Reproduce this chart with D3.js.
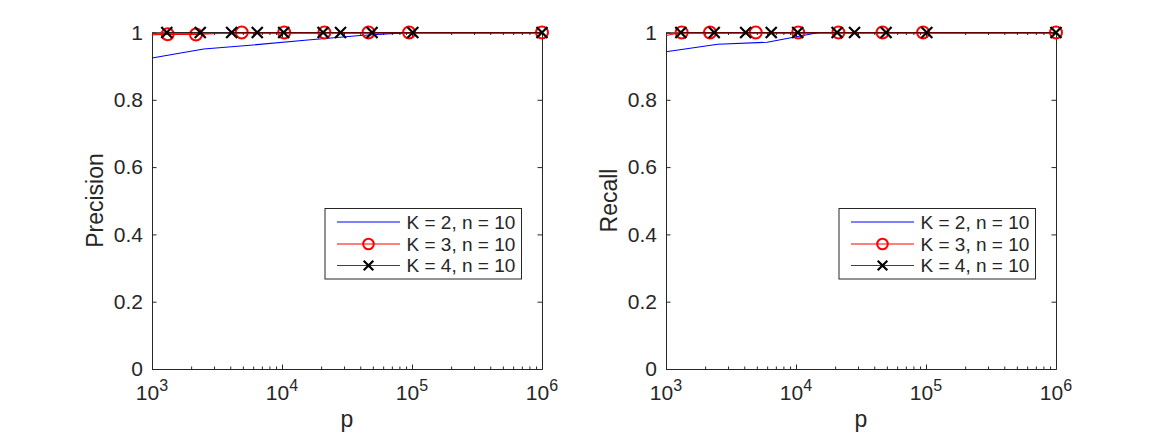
<!DOCTYPE html>
<html>
<head>
<meta charset="utf-8">
<script src="https://cdn.jsdelivr.net/npm/d3@7"></script>
<style>
  body { margin: 0; background: #fff; }
  text { font-family: "Liberation Sans", Arial, Helvetica, sans-serif; fill: #262626; }
</style>
</head>
<body>
<div id="chart"></div>
<script>
// Data
var xTicks = [1e3, 1e4, 1e5, 1e6];
var xTickExp = ["3", "4", "5", "6"];
var yTicks = [0, 0.2, 0.4, 0.6, 0.8, 1];
var legendLabels = ["K = 2, n = 10", "K = 3, n = 10", "K = 4, n = 10"];

// K = 2 (blue, no markers)
var pK2Prec = [1000, 2500, 6000, 15000, 40000, 100000, 1000000];
var precK2 = [0.924, 0.951, 0.963, 0.977, 0.991, 1.0, 1.0];
var pK2Rec = [1000, 2500, 6000, 15000, 1000000];
var recK2 = [0.943, 0.965, 0.971, 1.0, 1.0];

// K = 3 (red circles), first point has no marker
var pK3 = [1000, 1320, 2180, 4900, 10400, 21200, 46300, 95000, 1000000];
var precK3 = [0.993, 0.995, 0.994, 1, 1, 1, 1, 1, 1];
var recK3 = [0.991, 1, 1, 1, 1, 1, 1, 1, 1];

// K = 4 (black crosses)
var pK4 = [1300, 2350, 4100, 6450, 10300, 20700, 28200, 49300, 101500, 1000000];
var precK4 = [1, 1, 1, 1, 1, 1, 1, 1, 1, 1];
var recK4 = [1, 1, 1, 1, 1, 1, 1, 1, 1, 1];

var svgWidth = 1167;
var svgHeight = 434;
var axisColor = "#262626";

var svg = d3.select("#chart").append("svg")
  .attr("width", svgWidth)
  .attr("height", svgHeight);

svg.append("rect").attr("width", svgWidth).attr("height", svgHeight).attr("fill", "#fff");

// minor ticks of the log axis
var minorTicks = [];
[1e3, 1e4, 1e5].forEach(function(d) {
  for (var k = 2; k <= 9; k++) minorTicks.push(d * k);
});

function drawPanel(left, yLabel, series, legendX) {
  var x = d3.scaleLog().domain([1e3, 1e6]).range([left, left + 390]);
  var y = d3.scaleLinear().domain([0, 1]).range([369, 32.5]);
  var g = svg.append("g");

  // inward ticks on all four sides
  g.append("g").attr("transform", "translate(0,369)")
    .call(d3.axisBottom(x).tickValues(minorTicks).tickSize(-2.5).tickSizeOuter(0).tickFormat(""));
  g.append("g").attr("transform", "translate(0,369)")
    .call(d3.axisBottom(x).tickValues(xTicks).tickSize(-4.5).tickSizeOuter(0).tickFormat(""));
  g.append("g").attr("transform", "translate(0,32.5)")
    .call(d3.axisTop(x).tickValues(minorTicks).tickSize(-2.5).tickSizeOuter(0).tickFormat(""));
  g.append("g").attr("transform", "translate(0,32.5)")
    .call(d3.axisTop(x).tickValues(xTicks).tickSize(-4.5).tickSizeOuter(0).tickFormat(""));
  g.append("g").attr("transform", "translate(" + left + ",0)")
    .call(d3.axisLeft(y).tickValues(yTicks).tickSize(-4.5).tickSizeOuter(0).tickPadding(9)
      .tickFormat(function(d) { return d; }));
  g.append("g").attr("transform", "translate(" + (left + 390) + ",0)")
    .call(d3.axisRight(y).tickValues(yTicks).tickSize(-4.5).tickSizeOuter(0).tickFormat(""));

  g.selectAll(".domain, .tick line").attr("stroke", axisColor);
  g.selectAll(".tick text").style("font-size", "21px").attr("fill", axisColor);

  // x tick labels 10^n
  var xl = g.selectAll(".xlab").data(xTicks).enter().append("text")
    .attr("x", d => x(d))
    .attr("y", 400)
    .attr("text-anchor", "middle")
    .style("font-size", "21px");
  xl.append("tspan").text("10");
  xl.append("tspan").attr("dy", -9).style("font-size", "16px").text((d, i) => xTickExp[i]);

  // axis labels
  g.append("text")
    .attr("x", left + 195).attr("y", 427)
    .attr("text-anchor", "middle")
    .style("font-size", "23px")
    .text("p");
  g.append("text")
    .attr("transform", "translate(" + (left - 49.5) + ",200.5) rotate(-90)")
    .attr("text-anchor", "middle")
    .style("font-size", "23px")
    .text(yLabel);

  var line = d3.line().x(d => x(d[0])).y(d => y(d[1]));

  // K = 2
  g.append("path").datum(d3.zip(series.p2, series.v2))
    .attr("d", line).attr("fill", "none").attr("stroke", "#0000ff").attr("stroke-width", 1.1);

  // K = 3
  var k3 = d3.zip(pK3, series.v3);
  g.append("path").datum(k3)
    .attr("d", line).attr("fill", "none").attr("stroke", "#ff0000").attr("stroke-width", 1.1);
  g.selectAll(".circ").data(k3.slice(1)).enter().append("circle")
    .attr("cx", d => x(d[0])).attr("cy", d => y(d[1])).attr("r", 6)
    .attr("fill", "none").attr("stroke", "#ff0000").attr("stroke-width", 2);

  // K = 4
  var k4 = d3.zip(pK4, series.v4);
  g.append("path").datum(k4)
    .attr("d", line).attr("fill", "none").attr("stroke", "#000").attr("stroke-opacity", 0.6).attr("stroke-width", 1.1);
  g.selectAll(".cross").data(k4).enter().append("path")
    .attr("transform", d => "translate(" + x(d[0]) + "," + y(d[1]) + ")")
    .attr("d", "M-5.5,-5.5L5.5,5.5M-5.5,5.5L5.5,-5.5")
    .attr("stroke", "#000").attr("stroke-width", 2.2);

  // legend
  var lg = g.append("g").attr("transform", "translate(" + legendX + ",208.5)");
  lg.append("rect").attr("width", 196.5).attr("height", 70.5)
    .attr("fill", "#fff").attr("stroke", axisColor).attr("stroke-width", 1);
  var rowY = [13.5, 35.5, 57];
  var colors = ["#0000ff", "#ff0000", "#404040"];
  legendLabels.forEach(function(lab, i) {
    lg.append("line").attr("x1", 12).attr("x2", 75).attr("y1", rowY[i]).attr("y2", rowY[i])
      .attr("stroke", colors[i]).attr("stroke-width", 1.1);
    if (i === 1) {
      lg.append("circle").attr("cx", 43.5).attr("cy", rowY[i]).attr("r", 5.3)
        .attr("fill", "none").attr("stroke", "#ff0000").attr("stroke-width", 2);
    }
    if (i === 2) {
      lg.append("path").attr("transform", "translate(43.5," + rowY[i] + ")")
        .attr("d", "M-4.8,-4.8L4.8,4.8M-4.8,4.8L4.8,-4.8")
        .attr("stroke", "#000").attr("stroke-width", 2.2);
    }
    lg.append("text").attr("x", 81.5).attr("y", rowY[i] + 6.8)
      .style("font-size", "19px").text(lab);
  });
}

drawPanel(152, "Precision", { p2: pK2Prec, v2: precK2, v3: precK3, v4: precK4 }, 325);
drawPanel(666, "Recall", { p2: pK2Rec, v2: recK2, v3: recK3, v4: recK4 }, 839);
</script>
</body>
</html>
